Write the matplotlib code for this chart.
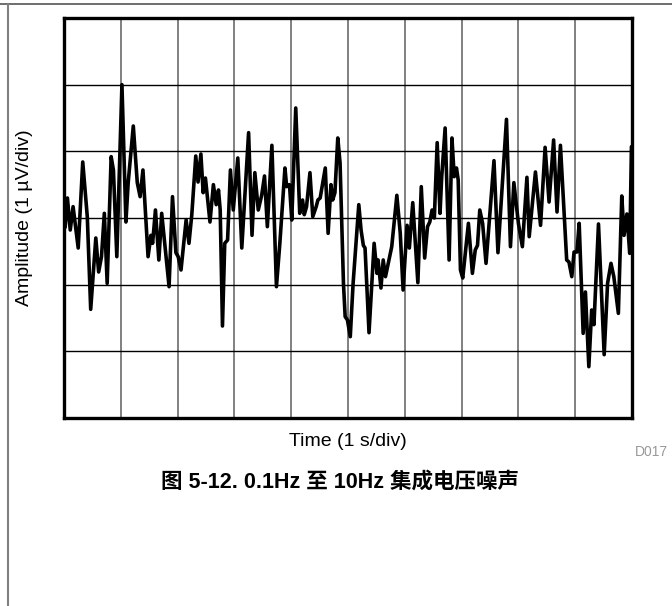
import numpy as np
import matplotlib.pyplot as plt
from matplotlib.lines import Line2D

# noise trace: time in divisions (1 s/div), amplitude in divisions (1 uV/div)
t = [0.02, 0.06, 0.11, 0.16, 0.25, 0.33, 0.41, 0.47, 0.56, 0.61,
     0.66, 0.71, 0.76, 0.83, 0.87, 0.93, 1.02, 1.09, 1.13, 1.22,
     1.29, 1.34, 1.39, 1.48, 1.53, 1.56, 1.61, 1.67, 1.72, 1.85,
     1.91, 1.97, 2.01, 2.06, 2.15, 2.20, 2.25, 2.32, 2.36, 2.41,
     2.45, 2.49, 2.57, 2.63, 2.68, 2.72, 2.75, 2.79, 2.83, 2.88,
     2.93, 2.98, 3.06, 3.13, 3.25, 3.31, 3.36, 3.42, 3.48, 3.53,
     3.58, 3.66, 3.74, 3.80, 3.89, 3.92, 3.97, 4.01, 4.08, 4.15,
     4.20, 4.23, 4.27, 4.33, 4.38, 4.44, 4.47, 4.51, 4.60, 4.65,
     4.70, 4.73, 4.77, 4.82, 4.86, 4.92, 4.95, 4.99, 5.04, 5.09,
     5.19, 5.23, 5.27, 5.30, 5.37, 5.46, 5.51, 5.53, 5.58, 5.62,
     5.66, 5.77, 5.86, 5.92, 5.97, 6.04, 6.08, 6.14, 6.23, 6.29,
     6.35, 6.40, 6.44, 6.48, 6.52, 6.57, 6.62, 6.65, 6.71, 6.78,
     6.83, 6.87, 6.91, 6.94, 6.98, 7.02, 7.12, 7.19, 7.24, 7.28,
     7.32, 7.37, 7.43, 7.57, 7.64, 7.68, 7.79, 7.86, 7.92, 8.00,
     8.07, 8.15, 8.19, 8.23, 8.30, 8.39, 8.47, 8.54, 8.62, 8.68,
     8.74, 8.79, 8.85, 8.89, 8.94, 8.98, 9.03, 9.07, 9.14, 9.18,
     9.24, 9.29, 9.33, 9.41, 9.51, 9.57, 9.63, 9.68, 9.76, 9.82,
     9.86, 9.91, 9.96, 9.99]
amp = [-0.14, 0.30, -0.18, 0.17, -0.45, 0.84, 0.02, -1.37, -0.30, -0.81,
       -0.58, 0.07, -0.98, 0.92, 0.72, -0.58, 2.00, -0.06, 0.53, 1.38,
       0.53, 0.32, 0.72, -0.58, -0.26, -0.38, 0.12, -0.63, 0.07, -1.03,
       0.32, -0.52, -0.58, -0.78, -0.03, -0.38, 0.05, 0.93, 0.54, 0.96,
       0.38, 0.60, -0.06, 0.50, 0.20, 0.42, 0.12, -1.62, -0.38, -0.33,
       0.72, 0.12, 0.90, -0.45, 1.28, -0.26, 0.68, 0.12, 0.34, 0.63,
       -0.13, 1.09, -1.03, -0.38, 0.75, 0.47, 0.50, -0.03, 1.65, 0.07,
       0.27, 0.05, 0.17, 0.68, 0.02, 0.17, 0.27, 0.30, 0.75, -0.23,
       0.50, 0.27, 0.38, 1.20, 0.83, -0.98, -1.48, -1.53, -1.78, -0.98,
       0.20, -0.18, -0.41, -0.45, -1.72, -0.38, -0.83, -0.63, -1.05, -0.63,
       -0.88, -0.43, 0.34, -0.23, -1.08, -0.11, -0.45, 0.23, -0.97, 0.47,
       -0.60, -0.13, -0.06, 0.12, 0.00, 1.13, 0.07, 0.62, 1.35, -0.63,
       1.20, 0.62, 0.75, 0.57, -0.78, -0.90, -0.08, -0.83, -0.48, -0.41,
       0.12, -0.08, -0.68, 0.86, -0.52, 0.02, 1.48, -0.43, 0.53, -0.08,
       -0.43, 0.61, -0.28, 0.07, 0.69, -0.11, 1.06, 0.24, 1.17, 0.09,
       1.09, 0.32, -0.63, -0.66, -0.88, -0.51, -0.51, -0.08, -1.73, -1.11,
       -2.23, -1.38, -1.60, -0.09, -2.05, -0.98, -0.68, -0.88, -1.43, 0.33,
       -0.26, 0.06, -0.53, 1.07]

xlabel = 'Time (1 s/div)'
ylabel = 'Amplitude (1 \u00b5V/div)'
caption = '图 5-12. 0.1Hz 至 10Hz 集成电压噪声'

fig = plt.figure(figsize=(6.72, 6.06), dpi=100)
ax = fig.add_axes([64 / 672, 1 - 418 / 606, 568 / 672, 400 / 606])

ax.plot(t, amp, color='black', lw=2.6, solid_joinstyle='round',
        solid_capstyle='round', zorder=3)

ax.set_xlim(0, 10)
ax.set_ylim(-3, 3)
ax.set_xticks(np.arange(1, 10))
ax.set_yticks(np.arange(-2, 3))
ax.tick_params(length=0, labelbottom=False, labelleft=False)
ax.grid(axis='x', color='#808080', lw=1.4)
ax.grid(axis='y', color='black', lw=1.0)
for s in ax.spines.values():
    s.set_linewidth(2.4)

ax.set_xlabel(xlabel, fontsize=14, family='Liberation Sans', labelpad=11)
ax.set_ylabel(ylabel, fontsize=14, family='Liberation Sans', labelpad=22)

fig.text(668 / 672, 1 - 452 / 606, 'D017', color='#999999', fontsize=10,
         family='Liberation Sans', ha='right', va='center')
fig.text(340 / 672, 1 - 482 / 606, caption, fontsize=15.5, fontweight='bold',
         family=['Liberation Sans', 'Noto Sans CJK SC'], ha='center', va='center')

# page frame lines
fig.add_artist(Line2D([0, 1], [1 - 4 / 606, 1 - 4 / 606], color='#555555', lw=1.2))
fig.add_artist(Line2D([7.5 / 672, 7.5 / 672], [0, 1 - 4 / 606], color='#808080', lw=1.5))

fig.savefig('out.png', dpi=100)
